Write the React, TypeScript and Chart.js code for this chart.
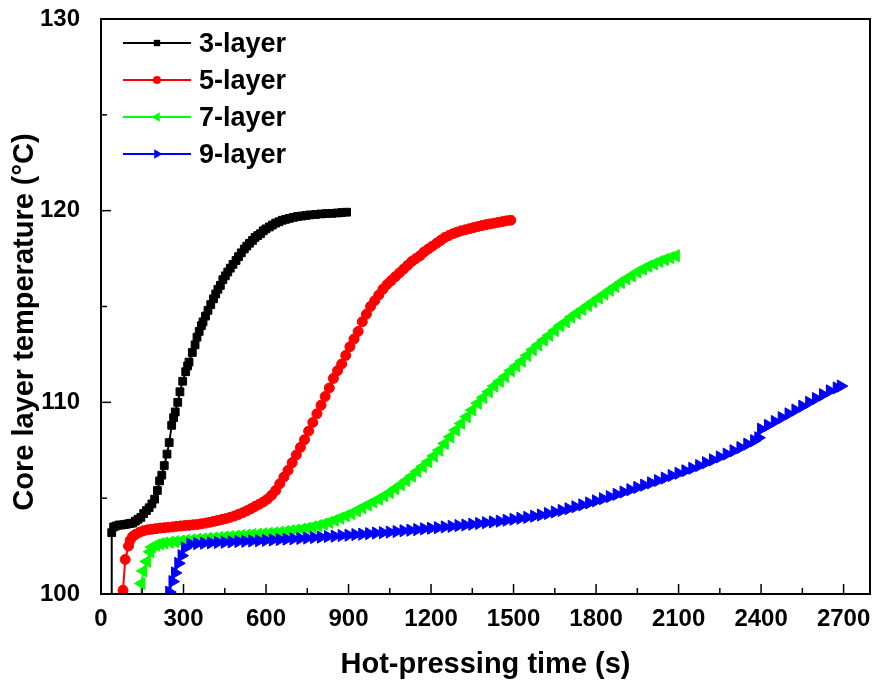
import React, { useEffect, useRef } from 'react';
import { Chart, registerables } from 'chart.js';

Chart.register(...registerables);

const SERIES_LABELS = ['3-layer', '5-layer', '7-layer', '9-layer'];
const SERIES_COLORS = ['#000000', '#ff0000', '#00ff00', '#0000ff'];
const X_TITLE = 'Hot-pressing time (s)';
const Y_TITLE = 'Core layer temperature (°C)';
const X_MIN = 0;
const X_MAX = 2796;
const X_STEP = 300;
const Y_MIN = 100;
const Y_MAX = 130;
const Y_STEP = 10;

// [time (s), temperature (°C)]
const layer3: [number, number][] = [
  [37, 90], [39, 103.2], [46, 103.5], [55, 103.55], [65, 103.6], [75, 103.6], [85, 103.62], [95, 103.65],
  [105, 103.68], [115, 103.7], [125, 103.8], [135, 103.9], [145, 104.0], [155, 104.2], [165, 104.35],
  [175, 104.5], [185, 104.7], [195, 104.95], [205, 105.4], [213, 105.9], [221, 106.2], [230, 106.7],
  [240, 107.3], [248, 107.9], [257, 108.8], [264, 109.2], [270, 109.5], [279, 110.0], [287, 110.55],
  [297, 111.1], [308, 111.6], [315, 111.9], [320, 112.1], [332, 112.6], [342, 113.0], [349, 113.4],
  [357, 113.7], [365, 114.0], [371, 114.2], [380, 114.5], [389, 114.8], [399, 115.1], [409, 115.4],
  [417, 115.65], [425, 115.9], [434, 116.1], [443, 116.4], [452, 116.6], [461, 116.8], [470, 117.0],
  [480, 117.2], [491, 117.4], [500, 117.6], [510, 117.8], [521, 118.0], [530, 118.15], [540, 118.3],
  [551, 118.45], [560, 118.6], [570, 118.7], [580, 118.8], [590, 118.95], [600, 119.05], [612, 119.15],
  [623, 119.25], [635, 119.35], [647, 119.42], [659, 119.5], [672, 119.55], [685, 119.6], [700, 119.65],
  [715, 119.7], [730, 119.72], [745, 119.75], [760, 119.78], [780, 119.8], [800, 119.83], [820, 119.85],
  [840, 119.86], [860, 119.88], [875, 119.9], [893, 119.92],
];

const layer5: [number, number][] = [
  [79, 90], [80, 100.2], [88, 101.8], [100, 102.5], [106, 102.8], [115, 103.0], [125, 103.1], [140, 103.22],
  [155, 103.3], [170, 103.35], [185, 103.38], [200, 103.41], [215, 103.44], [230, 103.46], [245, 103.48],
  [260, 103.5], [275, 103.53], [290, 103.55], [305, 103.57], [320, 103.59], [335, 103.61], [350, 103.63],
  [365, 103.66], [380, 103.7], [395, 103.74], [410, 103.79], [425, 103.84], [440, 103.89], [455, 103.94],
  [470, 104.0], [485, 104.07], [500, 104.15], [515, 104.24], [530, 104.34], [545, 104.45], [560, 104.57],
  [575, 104.68], [590, 104.8], [605, 104.95], [620, 105.15], [635, 105.4], [650, 105.75], [665, 106.1],
  [680, 106.45], [695, 106.85], [710, 107.25], [725, 107.65], [740, 108.05], [755, 108.5], [770, 108.95],
  [785, 109.4], [800, 109.85], [815, 110.3], [830, 110.75], [845, 111.25], [860, 111.65], [875, 112.0],
  [890, 112.45], [905, 112.9], [920, 113.3], [935, 113.7], [950, 114.2], [965, 114.6], [980, 115.0],
  [995, 115.3], [1010, 115.6], [1025, 115.9], [1040, 116.15], [1055, 116.35], [1070, 116.55], [1085, 116.75],
  [1100, 116.95], [1115, 117.15], [1130, 117.35], [1145, 117.5], [1160, 117.65], [1175, 117.85], [1190, 118.0],
  [1205, 118.15], [1220, 118.3], [1235, 118.45], [1250, 118.6], [1265, 118.7], [1280, 118.8], [1295, 118.88],
  [1310, 118.95], [1325, 119.0], [1340, 119.06], [1355, 119.12], [1370, 119.17], [1385, 119.22], [1400, 119.27],
  [1415, 119.31], [1430, 119.35], [1445, 119.39], [1460, 119.43], [1475, 119.47], [1490, 119.5],
];

const layer7: [number, number][] = [
  [145, 90], [147, 100.55], [154, 101.2], [167, 101.7], [179, 102.2], [186, 102.45], [200, 102.55],
  [215, 102.62], [230, 102.66], [250, 102.7], [270, 102.73], [290, 102.76], [310, 102.8], [330, 102.82],
  [350, 102.85], [370, 102.87], [390, 102.9], [410, 102.92], [430, 102.95], [450, 102.97], [470, 103.0],
  [490, 103.02], [510, 103.05], [530, 103.07], [550, 103.1], [570, 103.12], [590, 103.14], [610, 103.16],
  [630, 103.19], [650, 103.22], [670, 103.25], [690, 103.3], [710, 103.34], [730, 103.38], [750, 103.43],
  [770, 103.5], [790, 103.57], [810, 103.65], [830, 103.74], [850, 103.85], [870, 103.96], [890, 104.08],
  [910, 104.2], [930, 104.35], [950, 104.5], [970, 104.65], [990, 104.8], [1010, 104.95], [1030, 105.12],
  [1050, 105.3], [1070, 105.5], [1090, 105.7], [1110, 105.92], [1130, 106.15], [1150, 106.4], [1170, 106.65],
  [1190, 106.9], [1210, 107.2], [1230, 107.5], [1250, 107.85], [1270, 108.2], [1290, 108.55], [1310, 108.9],
  [1330, 109.25], [1350, 109.6], [1370, 109.95], [1390, 110.25], [1410, 110.55], [1430, 110.85], [1450, 111.1],
  [1470, 111.35], [1490, 111.65], [1510, 111.9], [1530, 112.15], [1550, 112.45], [1570, 112.75], [1590, 113.0],
  [1610, 113.25], [1630, 113.5], [1650, 113.75], [1670, 114.0], [1690, 114.2], [1710, 114.45], [1730, 114.65],
  [1750, 114.85], [1770, 115.05], [1790, 115.25], [1810, 115.45], [1830, 115.65], [1850, 115.85], [1870, 116.05],
  [1890, 116.25], [1910, 116.45], [1930, 116.6], [1950, 116.8], [1970, 116.95], [1990, 117.1], [2010, 117.22],
  [2030, 117.35], [2050, 117.45], [2070, 117.55], [2090, 117.65],
];

const layer9: [number, number][] = [
  [246, 90], [248, 100.1], [260, 100.65], [269, 101.1], [281, 101.6], [293, 102.0], [305, 102.4], [325, 102.6],
  [350, 102.63], [375, 102.65], [400, 102.67], [425, 102.69], [450, 102.7], [475, 102.72], [500, 102.74],
  [525, 102.75], [550, 102.77], [575, 102.78], [600, 102.8], [625, 102.82], [650, 102.84], [675, 102.86],
  [700, 102.88], [725, 102.9], [750, 102.92], [775, 102.95], [800, 102.97], [825, 103.0], [850, 103.02],
  [875, 103.05], [900, 103.07], [925, 103.1], [950, 103.12], [975, 103.15], [1000, 103.18], [1025, 103.2],
  [1050, 103.23], [1075, 103.26], [1100, 103.3], [1125, 103.33], [1150, 103.36], [1175, 103.4], [1200, 103.43],
  [1225, 103.46], [1250, 103.5], [1275, 103.53], [1300, 103.57], [1325, 103.6], [1350, 103.64], [1375, 103.68],
  [1400, 103.72], [1425, 103.76], [1450, 103.8], [1475, 103.85], [1500, 103.9], [1525, 103.95], [1550, 104.0],
  [1575, 104.06], [1600, 104.12], [1625, 104.2], [1650, 104.28], [1675, 104.36], [1700, 104.45], [1725, 104.55],
  [1750, 104.65], [1775, 104.75], [1800, 104.86], [1825, 104.97], [1850, 105.08], [1875, 105.2], [1900, 105.32],
  [1925, 105.44], [1950, 105.56], [1975, 105.68], [2000, 105.8], [2025, 105.92], [2050, 106.05], [2075, 106.18],
  [2100, 106.3], [2125, 106.43], [2150, 106.56], [2175, 106.7], [2200, 106.85], [2225, 107.0], [2250, 107.15],
  [2275, 107.3], [2300, 107.47], [2325, 107.64], [2350, 107.82], [2375, 108.0], [2390, 108.15], [2400, 108.6],
  [2425, 108.8], [2450, 109.0], [2475, 109.2], [2500, 109.4], [2525, 109.6], [2550, 109.8], [2575, 110.0],
  [2600, 110.2], [2625, 110.4], [2650, 110.6], [2675, 110.75], [2690, 110.85],
];

const FONT_FAMILY = '"Liberation Sans", Arial, Helvetica, sans-serif';

const MARKERS = [
  { style: 'rect', radius: 5.5, rotation: 0, legendRadius: 4.5 },
  { style: 'circle', radius: 5, rotation: 0, legendRadius: 4 },
  { style: 'triangle', radius: 7, rotation: -90, legendRadius: 5.5 },
  { style: 'triangle', radius: 7, rotation: 90, legendRadius: 5.5 },
];

function drawMarker(ctx: CanvasRenderingContext2D, style: string, x: number, y: number, r: number, rot: number, color: string) {
  ctx.fillStyle = color;
  ctx.beginPath();
  if (style === 'rect') {
    const h = r * Math.SQRT1_2;
    ctx.rect(x - h, y - h, 2 * h, 2 * h);
  } else if (style === 'circle') {
    ctx.arc(x, y, r, 0, Math.PI * 2);
  } else {
    const a0 = (rot * Math.PI) / 180;
    for (let k = 0; k < 3; k++) {
      const a = a0 + (k * 2 * Math.PI) / 3;
      const px = x + Math.sin(a) * r;
      const py = y - Math.cos(a) * r;
      if (k === 0) ctx.moveTo(px, py);
      else ctx.lineTo(px, py);
    }
  }
  ctx.closePath();
  ctx.fill();
}

const decorPlugin = {
  id: 'decor',
  afterDraw(chart: any) {
    const { ctx, chartArea: a, scales } = chart;
    ctx.save();
    ctx.strokeStyle = '#000';
    ctx.lineWidth = 1.5;
    const xs = scales.x;
    const ys = scales.y;
    const line = (x1: number, y1: number, x2: number, y2: number) => {
      ctx.beginPath();
      ctx.moveTo(x1, y1);
      ctx.lineTo(x2, y2);
      ctx.stroke();
    };
    xs.ticks.forEach((t: any, i: number) => {
      const px = xs.getPixelForValue(t.value);
      line(px, a.bottom, px, a.bottom - 10);
      const next = xs.ticks[i + 1];
      if (next) {
        const mx = xs.getPixelForValue((t.value + next.value) / 2);
        line(mx, a.bottom, mx, a.bottom - 6);
      }
    });
    ys.ticks.forEach((t: any, i: number) => {
      const py = ys.getPixelForValue(t.value);
      line(a.left, py, a.left + 10, py);
      const next = ys.ticks[i + 1];
      if (next) {
        const my = ys.getPixelForValue((t.value + next.value) / 2);
        line(a.left, my, a.left + 6, my);
      }
    });
    ctx.lineWidth = 2;
    ctx.strokeRect(a.left, a.top, a.right - a.left, a.bottom - a.top);

    // axis titles
    ctx.fillStyle = '#000';
    ctx.font = `bold 29px ${FONT_FAMILY}`;
    ctx.textAlign = 'center';
    ctx.textBaseline = 'middle';
    ctx.fillText(X_TITLE, (a.left + a.right) / 2, 665);
    ctx.save();
    ctx.translate(25, 322);
    ctx.rotate(-Math.PI / 2);
    ctx.fillText(Y_TITLE, 0, 0);
    ctx.restore();

    // legend
    ctx.font = `bold 27px ${FONT_FAMILY}`;
    ctx.textAlign = 'left';
    chart.data.datasets.forEach((ds: any, i: number) => {
      const rowY = a.top + 24 + i * 37;
      const m = MARKERS[i];
      ctx.strokeStyle = ds.borderColor;
      ctx.lineWidth = 2;
      line(a.left + 22, rowY, a.left + 90, rowY);
      drawMarker(ctx, m.style, a.left + 56, rowY, m.legendRadius, m.rotation, ds.borderColor);
      ctx.fillStyle = '#000';
      ctx.fillText(ds.label, a.left + 98, rowY + 2);
    });
    ctx.restore();
  },
};

export default function App() {
  const ref = useRef<HTMLCanvasElement>(null);
  useEffect(() => {
    const canvas = ref.current;
    if (!canvas) return;
    Chart.defaults.font.family = FONT_FAMILY;
    const all = [layer3, layer5, layer7, layer9];
    const datasets = all.map((d, i) => ({
      label: SERIES_LABELS[i],
      data: d.map(([x, y]) => ({ x, y })),
      showLine: true,
      borderColor: SERIES_COLORS[i],
      backgroundColor: SERIES_COLORS[i],
      pointBackgroundColor: SERIES_COLORS[i],
      pointBorderColor: SERIES_COLORS[i],
      pointBorderWidth: 1,
      borderWidth: 2,
      pointStyle: MARKERS[i].style as any,
      pointRadius: MARKERS[i].radius,
      pointHoverRadius: MARKERS[i].radius,
      pointRotation: MARKERS[i].rotation,
      order: 4 - i,
      clip: { left: 8, top: 8, right: 8, bottom: 0 },
      tension: 0,
    }));
    const chart = new Chart(canvas, {
      type: 'scatter',
      data: { datasets },
      options: {
        animation: false,
        responsive: false,
        events: [],
        layout: { padding: { top: 19, right: 7, left: 0, bottom: 0 } },
        plugins: { legend: { display: false }, tooltip: { enabled: false } },
        scales: {
          x: {
            type: 'linear',
            min: X_MIN,
            max: X_MAX,
            grid: { display: false },
            border: { display: false },
            ticks: {
              stepSize: X_STEP,
              includeBounds: false,
              autoSkip: false,
              maxRotation: 0,
              padding: 3,
              color: '#000',
              font: { size: 24, weight: 'bold' },
              callback: (v: any) => String(v),
            },
            afterFit: (s: any) => {
              s.height = 89;
              s.paddingLeft = 0;
              s.paddingRight = 0;
            },
          },
          y: {
            type: 'linear',
            min: Y_MIN,
            max: Y_MAX,
            grid: { display: false },
            border: { display: false },
            ticks: {
              stepSize: Y_STEP,
              includeBounds: false,
              padding: 13,
              color: '#000',
              font: { size: 24, weight: 'bold' },
              callback: (v: any) => String(v),
            },
            afterFit: (s: any) => {
              s.width = 101;
              s.paddingTop = 0;
              s.paddingBottom = 0;
            },
          },
        },
      } as any,
      plugins: [decorPlugin],
    });
    return () => chart.destroy();
  }, []);
  return (
    <div style={{ position: 'absolute', left: 0, top: 0, width: 878, height: 683, background: '#fff' }}>
      <canvas ref={ref} width={878} height={683} style={{ display: 'block', width: 878, height: 683 }} />
    </div>
  );
}
